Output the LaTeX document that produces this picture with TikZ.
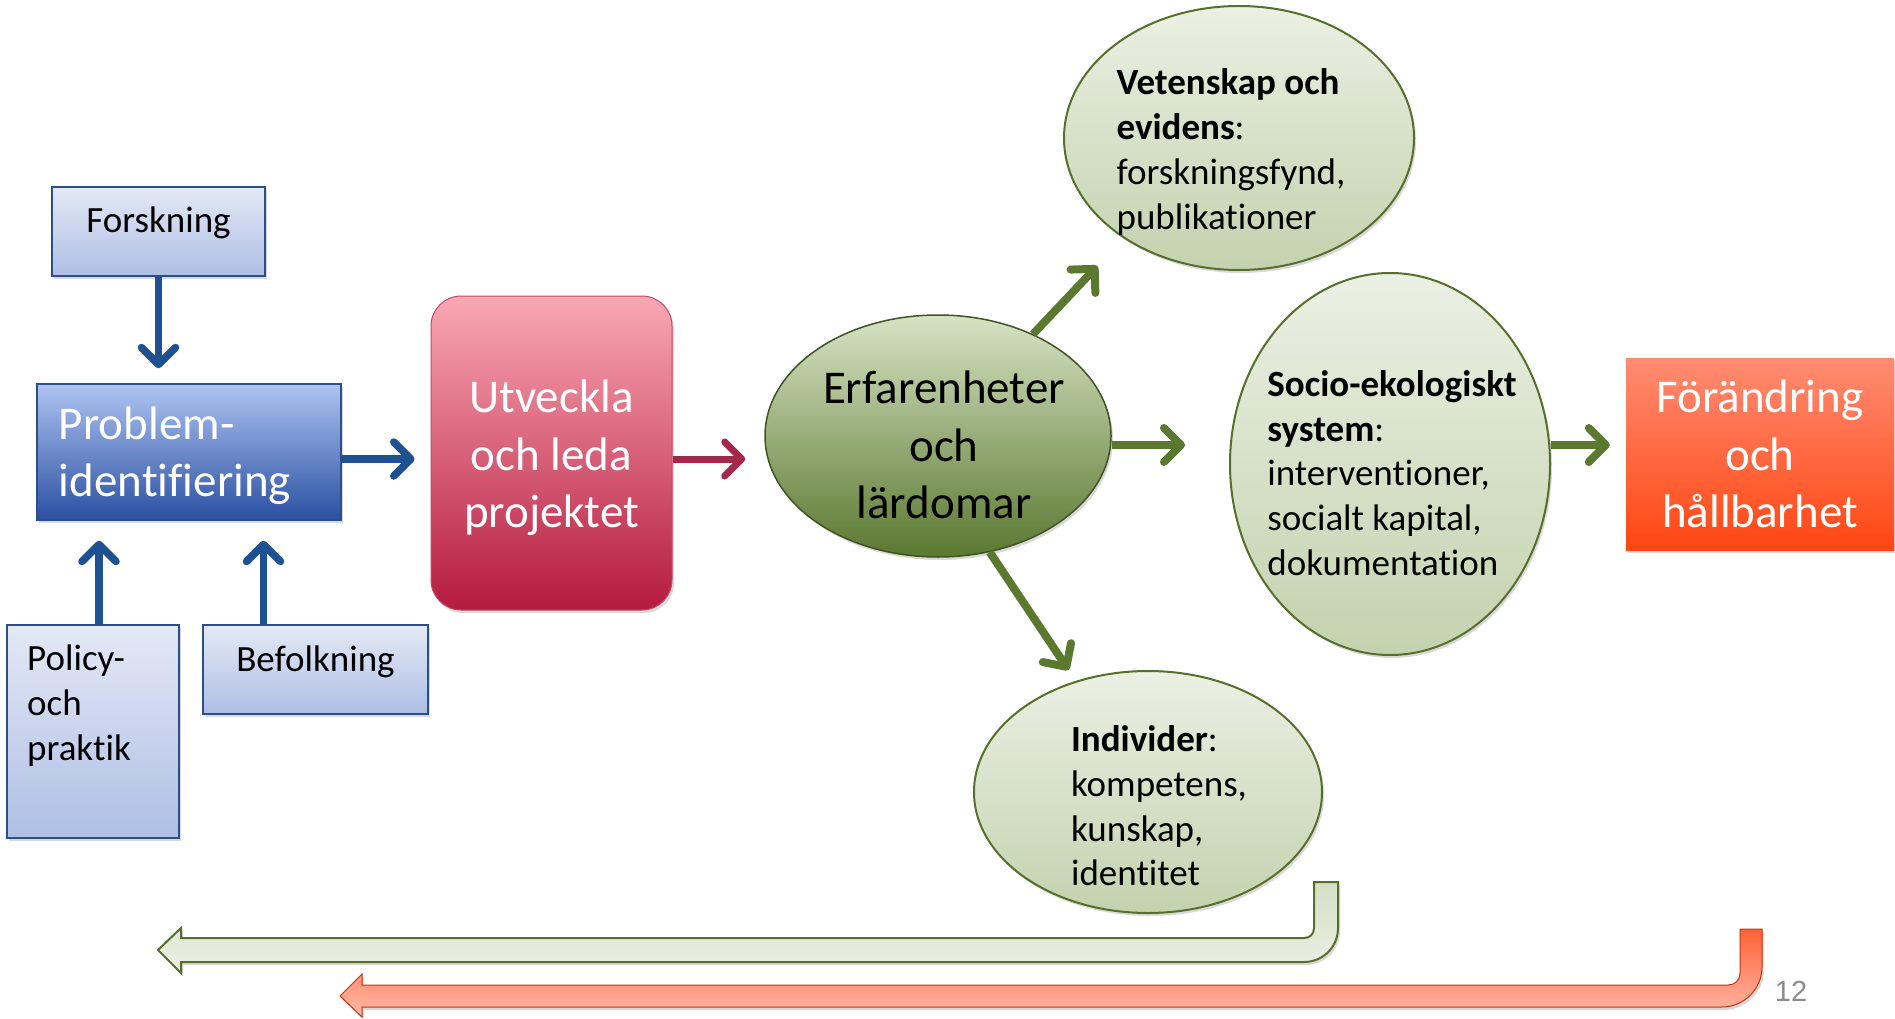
\documentclass[tikz,border=0pt]{standalone}
\usepackage{fontspec}
\setmainfont{Carlito}[Ligatures=NoCommon]
\newfontfamily\numfont{Liberation Sans}
\usetikzlibrary{arrows.meta,shapes.geometric,shadows}
\definecolor{boxline}{HTML}{2B4F8C}
\definecolor{boxtop}{HTML}{E4E9F6}
\definecolor{boxbot}{HTML}{AEBEE4}
\definecolor{probtop}{HTML}{AEC4F2}
\definecolor{probbot}{HTML}{2A50A2}
\definecolor{utvtop}{HTML}{FAA8B4}
\definecolor{utvbot}{HTML}{B51B3E}
\definecolor{erftop}{HTML}{D6E3C4}
\definecolor{erfbot}{HTML}{5A7830}
\definecolor{elltop}{HTML}{EBF0E4}
\definecolor{ellbot}{HTML}{C3D2AE}
\definecolor{olive}{HTML}{56702C}
\definecolor{chgtop}{HTML}{FF8C72}
\definecolor{chgbot}{HTML}{FF4612}
\definecolor{arrblue}{HTML}{1D5191}
\definecolor{arrred}{HTML}{A3284A}
\definecolor{arrgreen}{HTML}{5A782E}
\definecolor{pagegrey}{HTML}{8C8C8C}
\newcommand\smalltxt{\fontsize{37}{44.7}\selectfont}
\newcommand\bigtxt{\fontsize{47}{57.3}\selectfont}

\begin{document}
\begin{tikzpicture}
    [x=1pt,y=-1pt,
     shade/.style={drop shadow={opacity=.3,shadow xshift=2pt,shadow yshift=-3pt}},
     inbox/.style={rectangle,draw=boxline,line width=2pt,top color=boxtop,bottom color=boxbot,shade},
     probbox/.style={rectangle,draw=boxline,line width=1.5pt,top color=probtop,bottom color=probbot,shade},
     utvbox/.style={rectangle,rounded corners=30pt,draw=utvbot!80,line width=1pt,top color=utvtop,bottom color=utvbot,shade},
     erfell/.style={ellipse,inner sep=0pt,draw=erfbot!70!black,line width=1.5pt,top color=erftop,bottom color=erfbot,shade},
     outell/.style={ellipse,inner sep=0pt,draw=olive,line width=2pt,top color=elltop,bottom color=ellbot,shade},
     chgbox/.style={rectangle,top color=chgtop,bottom color=chgbot,shade},
     lbl/.style={font=\smalltxt,align=left},
     biglbl/.style={font=\bigtxt,align=center},
     bluearr/.style={draw=arrblue,line width=7.5pt,-{Straight Barb[length=17pt,width=34pt,round]}},
     redarr/.style={draw=arrred,line width=7pt,-{Straight Barb[length=17pt,width=34pt,round]}},
     greenarr/.style={draw=arrgreen,line width=8pt,-{Straight Barb[length=17pt,width=34pt,round]}}]
  \useasboundingbox (0,0) rectangle (1895,1019);

  % left hand side
  \node [inbox,minimum width=213pt,minimum height=89pt] (forsk)
    [label={[lbl,yshift=8.5pt]center:Forskning}] at (158.5,231.5) {};
  \node [probbox,minimum width=304pt,minimum height=136pt] (prob)
    [label={[biglbl,align=left,text=white,xshift=-14pt,yshift=-4pt]center:{Problem-\\identifiering}}] at (189,452) {};
  \node [inbox,minimum width=172pt,minimum height=213pt] (pol)
    [label={[lbl,xshift=-14pt,yshift=26pt]center:{Policy-\\och\\praktik}}] at (93,731.5) {};
  \node [inbox,minimum width=225pt,minimum height=89pt] (bef)
    [label={[lbl,yshift=8pt]center:Befolkning}] at (315.5,669.5) {};
  \node [utvbox,minimum width=241pt,minimum height=314pt] (utv)
    [label={[biglbl,text=white,yshift=-5pt]center:{Utveckla\\och leda\\projektet}}] at (551.5,453) {};

  % outcomes
  \node [erfell,minimum width=346pt,minimum height=242pt] (erf)
    [label={[biglbl,xshift=6pt,yshift=-9pt]center:{Erfarenheter\\och\\lärdomar}}] at (938,436) {};
  \node [outell,minimum width=350pt,minimum height=264pt] (vet)
    [label={[lbl,xshift=-8pt,yshift=-14pt]center:{\textbf{Vetenskap och}\\\textbf{evidens}:\\forskningsfynd,\\publikationer}}] at (1239,138) {};
  \node [outell,minimum width=320pt,minimum height=382pt] (soc)
    [label={[lbl,xshift=2pt,yshift=-9pt]center:{\textbf{Socio-ekologiskt}\\\textbf{system}:\\interventioner,\\socialt kapital,\\dokumentation}}] at (1390,464) {};
  \node [outell,minimum width=348pt,minimum height=242pt] (ind)
    [label={[lbl,xshift=11pt,yshift=-14pt]center:{\textbf{Individer}:\\kompetens,\\kunskap,\\identitet}}] at (1148,792) {};
  \node [chgbox,minimum width=268pt,minimum height=192pt] (chg)
    [label={[biglbl,text=white]center:{Förändring\\och\\hållbarhet}}] at (1760,454) {};

  % connectors
  \draw [bluearr,shorten >=15pt] (forsk.south) -- (forsk.south |- prob.north);
  \draw [bluearr,shorten >=20pt] ([xshift=6pt]pol.north) -- ([xshift=6pt]pol.north |- prob.south);
  \draw [bluearr,shorten >=20pt] ([xshift=-52pt]bef.north) -- ([xshift=-52pt]bef.north |- prob.south);
  \draw [bluearr,shorten >=16pt] ([yshift=-7pt]prob.east) -- ([yshift=-7pt]prob.east -| utv.west);
  \draw [redarr,shorten >=19pt] ([yshift=-6pt]utv.east) -- ([yshift=-6pt]utv.east -| erf.west);
  \draw [greenarr,shorten >=38pt] (erf.47) -- (vet.221);
  \draw [greenarr,shorten >=13pt] (erf.-66) -- (ind.123);
  \draw [greenarr,shorten >=44pt] ([yshift=-9pt]erf.east) -- ([yshift=-9pt]erf.east -| soc.west);
  \draw [greenarr,shorten >=16pt] ([yshift=19pt]soc.east) -- ([yshift=19pt]soc.east -| chg.west);

  % feedback arrows
  \draw [draw=olive,line width=2pt,top color=ellbot!70,bottom color=elltop,shade,line join=miter]
    (1314,882) -- (1338,882) -- (1338,928) .. controls (1338,947) and (1323,962) .. (1304,962)
    -- (181,962) -- (181,973) -- (158,950) -- (181,928) -- (181,938) -- (1304,938)
    .. controls (1310,938) and (1314,934) .. (1314,928) -- cycle;
  \draw [draw=chgbot!75!black,line width=1pt,top color=chgbot!85!white,bottom color=chgtop!60!white,shade]
    (1740,929) -- (1762,929) -- (1762,967) .. controls (1762,989) and (1744,1007) .. (1722,1007)
    -- (362,1007) -- (362,1017) -- (340,996) -- (362,974) -- (362,985) -- (1728,985)
    .. controls (1735,985) and (1740,980) .. (1740,973) -- cycle;

  \node [font=\numfont\fontsize{29}{35}\selectfont,text=pagegrey] (pnum) at (1791,991) {12};
\end{tikzpicture}
\end{document}
